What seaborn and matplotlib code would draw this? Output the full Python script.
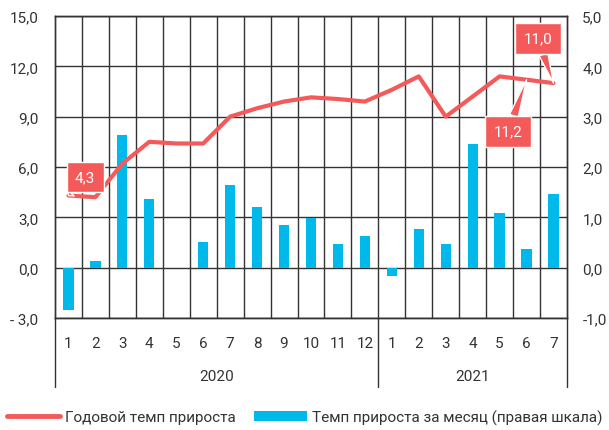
import numpy as np
import pandas as pd
import seaborn as sns
import matplotlib.pyplot as plt
import matplotlib.transforms as mtrans
from matplotlib.lines import Line2D
from matplotlib.patches import Patch

# ---- data ----
months = ['1', '2', '3', '4', '5', '6', '7', '8', '9', '10', '11', '12',
          '1', '2', '3', '4', '5', '6', '7']
years = ['2020', '2021']
year_sizes = [12, 7]
annual_growth = [4.3, 4.2, 6.2, 7.5, 7.4, 7.4, 9.0, 9.5, 9.9, 10.15, 10.05, 9.9,
                 10.6, 11.4, 9.0, 10.2, 11.4, 11.2, 11.0]
monthly_growth = [-0.85, 0.13, 2.64, 1.37, 0.0, 0.5, 1.65, 1.2, 0.84, 0.99, 0.47, 0.63,
                  -0.17, 0.76, 0.46, 2.45, 1.09, 0.37, 1.47]
left_ticks = [-3, 0, 3, 6, 9, 12, 15]
left_labels = ['- 3,0', '0,0', '3,0', '6,0', '9,0', '12,0', '15,0']
right_ticks = [-1, 0, 1, 2, 3, 4, 5]
right_labels = ['-1,0', '0,0', '1,0', '2,0', '3,0', '4,0', '5,0']
callouts = [('4,3', 0), ('11,2', 17), ('11,0', 18)]
legend_labels = ['Годовой темп прироста', 'Темп прироста за месяц (правая шкала)']

RED = '#F45A5A'
BLUE = '#00B9EB'
DARK = '#333333'

sns.set_theme(style='white')
plt.rcParams['font.family'] = ['Roboto', 'DejaVu Sans']

n = len(months)
pos = np.arange(n)
df = pd.DataFrame({'pos': pos, 'annual': annual_growth, 'monthly': monthly_growth})

fig = plt.figure(figsize=(6.09, 4.31), dpi=100)
ax = fig.add_axes([0.0903, 0.2599, 0.8407, 0.7007])
ax2 = ax.twinx()
ax.set_zorder(ax2.get_zorder() + 1)
ax.patch.set_visible(False)

# bars (right axis)
sns.barplot(data=df, x='pos', y='monthly', native_scale=True, width=0.38,
            color=BLUE, saturation=1, linewidth=0, ax=ax2, zorder=3)
# line (left axis)
sns.lineplot(data=df, x='pos', y='annual', color=RED, lw=3.0, ax=ax, zorder=4)

ax.set_xlim(-0.5, n - 0.5)
ax.set_ylim(-3, 15)
ax2.set_ylim(-1, 5)

ax.set_yticks(left_ticks)
ax.set_yticklabels(left_labels)
ax2.set_yticks(right_ticks)
ax2.set_yticklabels(right_labels)
ax.set_xticks(pos)
ax.set_xticklabels(months)
for a in (ax, ax2):
    a.set_xlabel('')
    a.set_ylabel('')
ax.tick_params(axis='both', length=0, labelsize=11, colors=DARK)
ax.tick_params(axis='x', pad=13)
ax.tick_params(axis='y', pad=12)
ax2.tick_params(axis='y', length=0, labelsize=11, colors=DARK, pad=11)

# grid
ax2.set_axisbelow(True)
ax2.yaxis.grid(True, color=DARK, lw=1)
for b in np.arange(0.5, n - 1, 1):
    ax2.axvline(b, color=DARK, lw=1, zorder=0.5)
for a in (ax, ax2):
    for s in a.spines.values():
        s.set_color(DARK)
        s.set_linewidth(1)

# year groups
trans = mtrans.blended_transform_factory(ax.transData, ax.transAxes)
start = 0
seps = [-0.5]
for yr, size in zip(years, year_sizes):
    center = start + (size - 1) / 2
    ax.text(center, -0.192, yr, transform=trans, ha='center', va='center',
            fontsize=11, color=DARK)
    start += size
    seps.append(start - 0.5)
for s in seps:
    ax.plot([s, s], [0, -0.228], transform=trans, color=DARK, lw=1, clip_on=False)

# callouts
offsets = {0: (0.615, 5.4), 17: (16.32, 8.1), 18: (17.42, 13.66)}
for txt, i in callouts:
    ax.annotate(txt, xy=(pos[i], annual_growth[i]), xytext=offsets[i],
                textcoords='data', ha='center', va='center', color='white',
                fontsize=11, zorder=6, annotation_clip=False,
                bbox=dict(boxstyle='square,pad=0.55', fc=RED, ec='white', lw=1),
                arrowprops=dict(arrowstyle='wedge,tail_width=0.6', fc=RED,
                                ec='white', lw=1, shrinkA=0, shrinkB=0))

# legend
handles = [Line2D([], [], color=RED, lw=3.5),
           Patch(facecolor=BLUE, edgecolor='none')]
fig.legend(handles, legend_labels, loc='center', bbox_to_anchor=(0.5, 13 / 431),
           ncol=2, frameon=False, handlelength=3.5, handletextpad=0.3,
           columnspacing=1.2, fontsize=11, labelcolor=DARK)

fig.savefig('out.png', dpi=100)
